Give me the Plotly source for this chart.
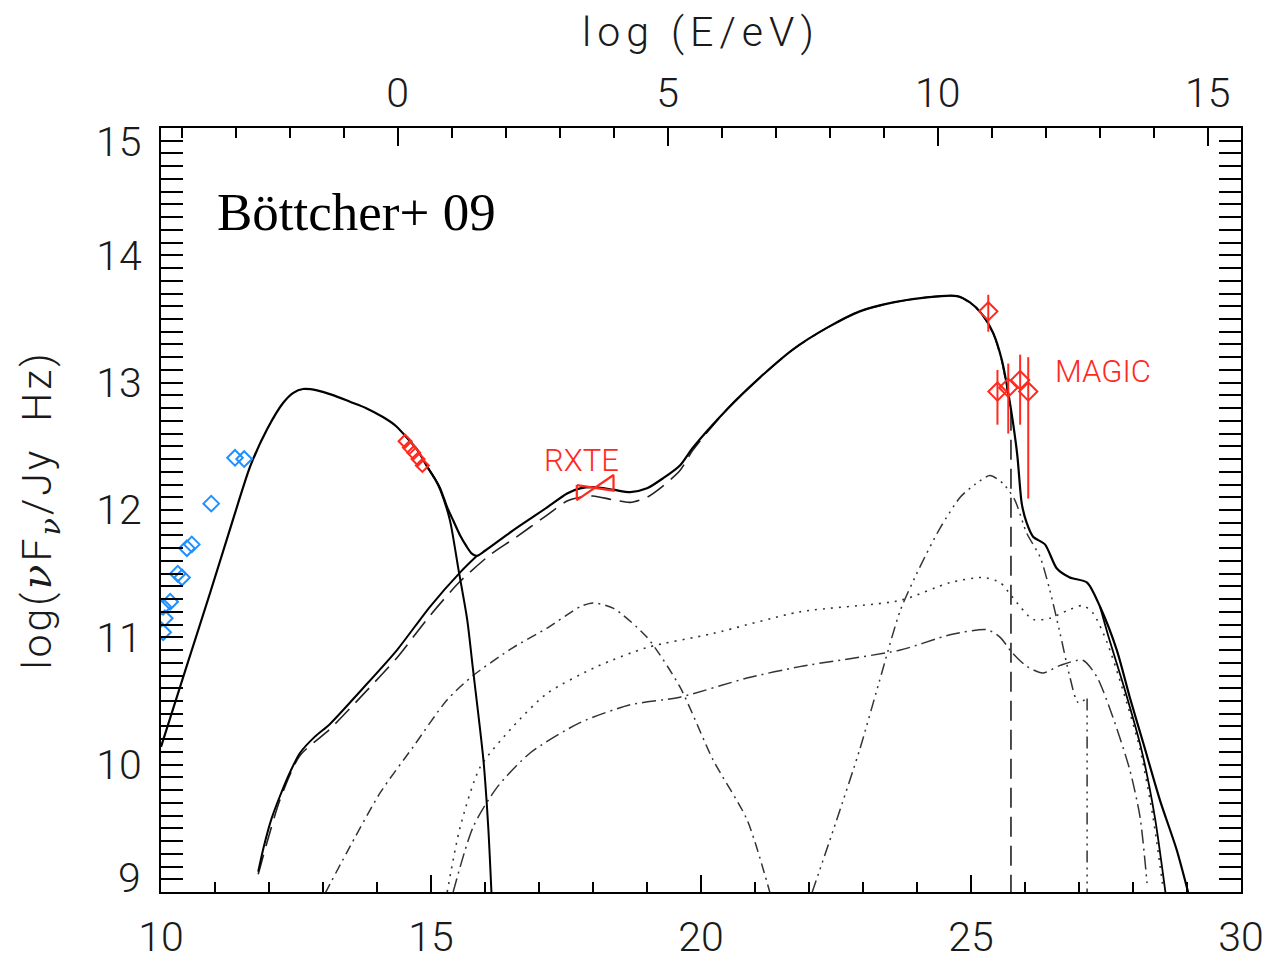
import plotly.graph_objects as go

# ---------------- data (log nu [Hz], log nuFnu [Jy Hz]) ----------------
total_x = [10.0, 10.51, 10.91, 11.33, 11.65, 11.96, 12.26, 12.45, 12.63, 12.89, 13.2, 13.5, 13.8,
           14.11, 14.35, 14.55, 14.75, 14.93, 15.08, 15.17, 15.3, 15.42, 15.54, 15.65, 15.75, 15.85,
           16.0, 16.52, 17.15, 17.52, 17.76, 18.0, 18.37, 18.69, 19.0, 19.3, 19.61, 19.85, 20.48,
           21.09, 21.7, 22.33, 22.94, 23.56, 24.18, 24.74, 24.98, 25.2, 25.41, 25.57, 25.69, 25.78,
           25.86, 25.94, 26.03, 26.15, 26.37, 26.59, 26.83, 27.15, 27.39, 27.7, 27.94, 28.19, 28.5,
           28.81, 29.02]
total_y = [10.14, 10.82, 11.35, 11.92, 12.34, 12.63, 12.84, 12.92, 12.95, 12.94, 12.9, 12.85, 12.8,
           12.73, 12.66, 12.57, 12.47, 12.34, 12.24, 12.17, 12.02, 11.91, 11.8, 11.72, 11.66, 11.64,
           11.68, 11.84, 12.02, 12.13, 12.17, 12.18, 12.16, 12.14, 12.17, 12.25, 12.35, 12.49, 12.79,
           13.04, 13.26, 13.43, 13.56, 13.63, 13.67, 13.68, 13.63, 13.54, 13.39, 13.18, 12.92, 12.68,
           12.42, 12.05, 11.9, 11.79, 11.73, 11.54, 11.47, 11.43, 11.24, 10.9, 10.53, 10.17, 9.72,
           9.33, 9.0]

sync_x = [14.93, 15.08, 15.17, 15.35, 15.51, 15.67, 15.78, 15.97, 16.06, 16.12]
sync_y = [12.34, 12.24, 12.16, 11.92, 11.53, 11.14, 10.74, 10.04, 9.51, 8.99]

ic_x = [11.8, 11.9, 12.05, 12.2, 12.4, 12.57, 12.85, 13.13, 13.74, 14.37, 14.98, 15.54, 15.85]
ic_y = [9.16, 9.35, 9.58, 9.75, 9.95, 10.09, 10.22, 10.32, 10.6, 10.9, 11.24, 11.51, 11.64]

tail_x = [27.39, 27.55, 27.84, 28.15, 28.4, 28.6]
tail_y = [11.24, 11.0, 10.6, 10.13, 9.6, 9.0]

dash_x = [11.8, 12.2, 12.57, 13.13, 13.74, 14.37, 14.98, 15.54, 16.1, 16.52, 17.15, 17.52, 17.76,
          18.0, 18.37, 18.69, 19.0, 19.3, 19.61, 19.85, 20.48, 21.09, 21.7, 22.33, 22.94, 23.56,
          24.18, 24.74, 24.98, 25.2, 25.41, 25.57, 25.69, 25.74]
dash_y = [9.14, 9.72, 10.07, 10.28, 10.55, 10.84, 11.17, 11.44, 11.65, 11.77, 11.96, 12.07, 12.1,
          12.11, 12.08, 12.06, 12.1, 12.19, 12.31, 12.47, 12.79, 13.04, 13.26, 13.43, 13.56, 13.63,
          13.67, 13.68, 13.63, 13.54, 13.39, 13.17, 12.9, 12.78]
dash_drop_x = [25.74, 25.74]
dash_drop_y = [12.78, 8.8]

ecd_x = [13.04, 13.44, 14.06, 14.67, 15.3, 15.78, 16.52, 17.14, 17.76, 18.0, 18.37, 19.0, 19.61,
         20.22, 20.85, 21.28]
ecd_y = [8.99, 9.31, 9.78, 10.14, 10.51, 10.7, 10.92, 11.07, 11.24, 11.27, 11.23, 11.0, 10.61,
         10.04, 9.57, 8.99]

dot_x = [15.3, 15.54, 15.91, 16.52, 17.15, 18.07, 19.0, 20.22, 21.83, 23.69, 24.61, 25.22, 25.54,
         25.76, 26.15, 26.46, 26.78, 27.07, 27.26, 27.52, 27.81, 28.13, 28.37, 28.56]
dot_y = [9.0, 9.51, 9.98, 10.3, 10.56, 10.77, 10.92, 11.03, 11.2, 11.29, 11.43, 11.47, 11.43,
         11.32, 11.14, 11.15, 11.21, 11.25, 11.19, 10.96, 10.59, 10.12, 9.59, 9.02]

dd_x = [15.41, 15.78, 16.22, 16.83, 17.76, 18.69, 19.61, 20.85, 21.83, 23.69, 24.61, 25.3, 25.54,
        25.76, 26.04, 26.33, 26.65, 27.07, 27.33, 27.63, 27.94, 28.13, 28.26]
dd_y = [9.0, 9.51, 9.82, 10.09, 10.33, 10.47, 10.53, 10.68, 10.77, 10.9, 11.02, 11.06, 11.0,
        10.88, 10.77, 10.72, 10.78, 10.82, 10.69, 10.37, 9.96, 9.59, 9.07]

ddd_x = [22.06, 22.5, 22.94, 23.3, 23.69, 24.05, 24.43, 24.8, 25.07, 25.35, 25.59, 25.81, 26.03,
         26.28, 26.46, 26.65, 26.83, 26.98, 27.15]
ddd_y = [9.0, 9.55, 10.12, 10.65, 11.21, 11.55, 11.86, 12.1, 12.2, 12.27, 12.21, 12.08, 11.82,
         11.63, 11.37, 11.03, 10.69, 10.49, 10.52]
ddd_drop_x = [27.15, 27.15]
ddd_drop_y = [10.52, 8.8]

radio_x = [11.37, 11.54, 10.93, 10.48, 10.57, 10.31, 10.39, 10.17, 10.04, 10.07, 10.04]
radio_y = [12.41, 12.40, 12.05, 11.70, 11.73, 11.50, 11.47, 11.28, 11.24, 11.15, 11.04]

opt_x = [14.52, 14.60, 14.68, 14.76, 14.84]
opt_y = [12.54, 12.49, 12.45, 12.40, 12.35]

rxte_x = [17.70, 18.38, 18.38, 17.70, 17.70]
rxte_y = [12.196, 12.152, 12.275, 12.078, 12.196]

magic_x = [25.32, 25.49, 25.69, 25.91, 26.06]
magic_y = [13.56, 12.93, 12.96, 13.02, 12.93]
magic_up = [0.13, 0.17, 0.19, 0.20, 0.27]
magic_dn = [0.16, 0.26, 0.36, 0.35, 0.84]

x_ticks = [10, 15, 20, 25, 30]
y_ticks = [9, 10, 11, 12, 13, 14, 15]
e_ticks = [0, 5, 10, 15]
LOG_NU_1EV = 14.383  # log10 of frequency (Hz) for 1 eV

RED = "#ff2a1f"
BLUE = "#1e90ff"
TICKFONT = dict(family="Roboto", size=41, color="#1a1a1a", weight=300)
NU = "<span style=\"font-family:'DejaVu Serif';font-style:italic\">ν</span>"
XTITLE = "<span style=\"letter-spacing:6px\">log (E/eV)</span>"
YTITLE = f"<span style=\"letter-spacing:3px\">log({NU}F<sub>{NU}</sub>/Jy  Hz)</span>"

fig = go.Figure()

def line(x, y, dash="solid", width=2.0, color="black", smooth=True):
    shape = dict(shape="spline", smoothing=0.7) if smooth else dict(shape="linear")
    fig.add_trace(go.Scatter(x=x, y=y, mode="lines",
                             line=dict(color=color, width=width, dash=dash, **shape),
                             showlegend=False, hoverinfo="skip"))

line(ecd_x, ecd_y, dash="10px,5px,2px,5px", width=1.5, color="#333")
line(dot_x, dot_y, dash="2px,6px", width=1.6, color="#333")
line(dd_x, dd_y, dash="14px,5px,2px,5px", width=1.5, color="#333")
line(ddd_x, ddd_y, dash="12px,5px,2px,5px,2px,5px,2px,5px", width=1.5, color="#333")
line(ddd_drop_x, ddd_drop_y, dash="12px,5px,2px,5px,2px,5px,2px,5px", width=1.5, color="#333", smooth=False)
line(dash_x, dash_y, dash="20px,9px", width=1.6, color="#222")
line(dash_drop_x, dash_drop_y, dash="20px,9px", width=1.6, color="#222", smooth=False)
line(tail_x, tail_y, width=1.8)
line(ic_x, ic_y, width=2.0)
line(sync_x, sync_y, width=2.0)
line(total_x, total_y, width=2.2)

# data points
fig.add_trace(go.Scatter(x=radio_x, y=radio_y, mode="markers",
                         marker=dict(symbol="diamond-open", size=12, color=BLUE, line=dict(width=2, color=BLUE)),
                         showlegend=False, hoverinfo="skip"))
fig.add_trace(go.Scatter(x=opt_x, y=opt_y, mode="markers",
                         marker=dict(symbol="diamond-open", size=10, color=RED, line=dict(width=2, color=RED)),
                         showlegend=False, hoverinfo="skip"))
fig.add_trace(go.Scatter(x=rxte_x, y=rxte_y, mode="lines", line=dict(color=RED, width=2.2),
                         showlegend=False, hoverinfo="skip"))
fig.add_trace(go.Scatter(x=magic_x, y=magic_y, mode="markers",
                         marker=dict(symbol="diamond-open", size=14, color=RED, line=dict(width=2, color=RED)),
                         error_y=dict(type="data", symmetric=False, array=magic_up, arrayminus=magic_dn,
                                      color=RED, thickness=2, width=0),
                         showlegend=False, hoverinfo="skip"))

# top axis helper trace (invisible) so the secondary axis is drawn
fig.add_trace(go.Scatter(x=[e_ticks[0]], y=[y_ticks[0] - 5], xaxis="x2", mode="markers",
                         marker=dict(size=1, opacity=0), showlegend=False, hoverinfo="skip"))

fig.update_layout(
    width=1268, height=960,
    margin=dict(l=161, r=27, t=128, b=68),
    paper_bgcolor="white", plot_bgcolor="white",
    xaxis=dict(range=[x_ticks[0], x_ticks[-1]], tickvals=x_ticks, ticks="inside", ticklen=17, tickwidth=2,
               tickcolor="black", showline=True, linecolor="black", linewidth=2, showgrid=False,
               zeroline=False, tickfont=TICKFONT, ticklabelstandoff=8, automargin=False,
               minor=dict(dtick=1, ticks="inside", ticklen=10, tickwidth=2, tickcolor="black", showgrid=False)),
    xaxis2=dict(range=[x_ticks[0] - LOG_NU_1EV, x_ticks[-1] - LOG_NU_1EV], tickvals=e_ticks,
                overlaying="x", side="top", anchor="y", automargin=False,
                ticks="inside", ticklen=18, tickwidth=2, tickcolor="black", showline=True,
                linecolor="black", linewidth=2, showgrid=False, zeroline=False, tickfont=TICKFONT,
                ticklabelstandoff=3,
                title=dict(text=XTITLE, font=TICKFONT, standoff=9),
                minor=dict(dtick=1, ticks="inside", ticklen=10, tickwidth=2, tickcolor="black", showgrid=False)),
    yaxis=dict(range=[y_ticks[0], y_ticks[-1]], tickvals=y_ticks[1:-1],
               ticks="inside", ticklen=22, tickwidth=2, tickcolor="black", showline=True,
               linecolor="black", linewidth=2, mirror="allticks", showgrid=False, zeroline=False,
               tickfont=TICKFONT, ticklabelstandoff=9, automargin=False,
               title=dict(text=YTITLE, font=TICKFONT, standoff=32),
               minor=dict(dtick=0.1, ticks="inside", ticklen=11, tickwidth=2, tickcolor="black", showgrid=False)),
    annotations=[
        dict(x=-0.0167, xref="paper", xanchor="right", y=y_ticks[-1] - 0.11, yref="y", yanchor="middle",
             text=str(y_ticks[-1]), showarrow=False, font=TICKFONT),
        dict(x=-0.0167, xref="paper", xanchor="right", y=y_ticks[0] + 0.11, yref="y", yanchor="middle",
             text=str(y_ticks[0]), showarrow=False, font=TICKFONT),
        dict(x=11.0, y=14.34, xref="x", yref="y", xanchor="left", yanchor="middle", text="Böttcher+ 09",
             showarrow=False, font=dict(family="Liberation Serif", size=53, color="black")),
        dict(x=17.78, y=12.39, xref="x", yref="y", text="RXTE", showarrow=False,
             font=dict(family="Roboto", size=31, color=RED, weight=300)),
        dict(x=27.44, y=13.09, xref="x", yref="y", text="MAGIC", showarrow=False,
             font=dict(family="Roboto", size=31, color=RED, weight=300)),
    ],
)

fig.write_html("out.html")
